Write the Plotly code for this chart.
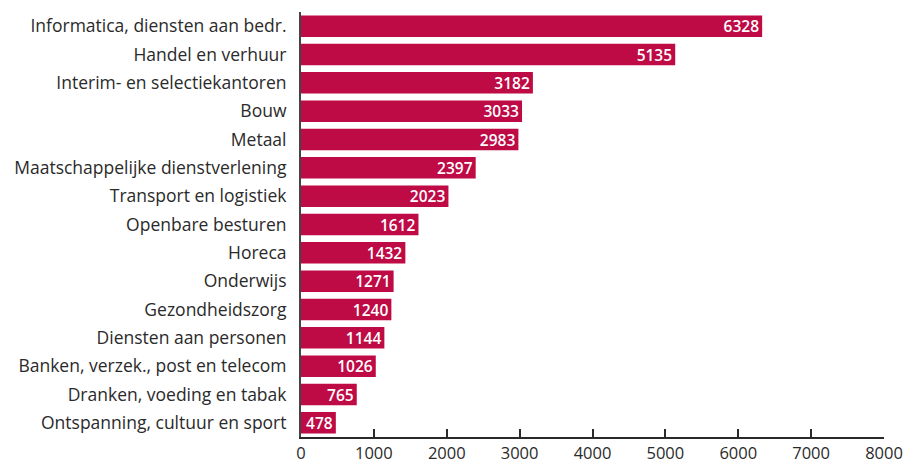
import plotly.graph_objects as go

categories = [
    "Informatica, diensten aan bedr.",
    "Handel en verhuur",
    "Interim- en selectiekantoren",
    "Bouw",
    "Metaal",
    "Maatschappelijke dienstverlening",
    "Transport en logistiek",
    "Openbare besturen",
    "Horeca",
    "Onderwijs",
    "Gezondheidszorg",
    "Diensten aan personen",
    "Banken, verzek., post en telecom",
    "Dranken, voeding en tabak",
    "Ontspanning, cultuur en sport",
]
values = [6328, 5135, 3182, 3033, 2983, 2397, 2023, 1612, 1432, 1271, 1240, 1144, 1026, 765, 478]
tick_values = [0, 1000, 2000, 3000, 4000, 5000, 6000, 7000, 8000]

fig = go.Figure(go.Bar(
    x=values,
    y=categories,
    orientation="h",
    marker=dict(color="#BE0A45", line=dict(width=0)),
    text=[str(v) for v in values],
    textposition="inside",
    insidetextanchor="end",
    constraintext="none",
    textfont=dict(color="white", size=15.5, family="Open Sans", weight=600),
    cliponaxis=False,
    hoverinfo="skip",
))

fig.update_layout(
    width=906, height=467,
    margin=dict(l=301, r=22, t=12, b=30),
    plot_bgcolor="white",
    paper_bgcolor="white",
    bargap=0.24,
    showlegend=False,
    font=dict(family="Open Sans", color="#2a2a2a", size=16),
)
fig.update_xaxes(
    range=[0, 8000],
    tickvals=tick_values,
    ticks="inside",
    ticklen=8,
    tickcolor="#2a2a2a",
    tickwidth=1.5,
    showline=True,
    linecolor="#2a2a2a",
    linewidth=2,
    showgrid=False,
    zeroline=False,
    automargin=False,
    tickfont=dict(size=16.5, color="#2a2a2a"),
)
fig.update_yaxes(
    autorange="reversed",
    showline=True,
    linecolor="#444444",
    linewidth=2,
    showgrid=False,
    ticks="",
    automargin=False,
    ticklabelstandoff=9,
    tickfont=dict(size=17.5, color="#2a2a2a"),
)

fig.write_html(
    "out.html",
    config={"displayModeBar": False},
    post_script="document.body.style.margin='0';document.body.style.overflow='hidden';",
)
